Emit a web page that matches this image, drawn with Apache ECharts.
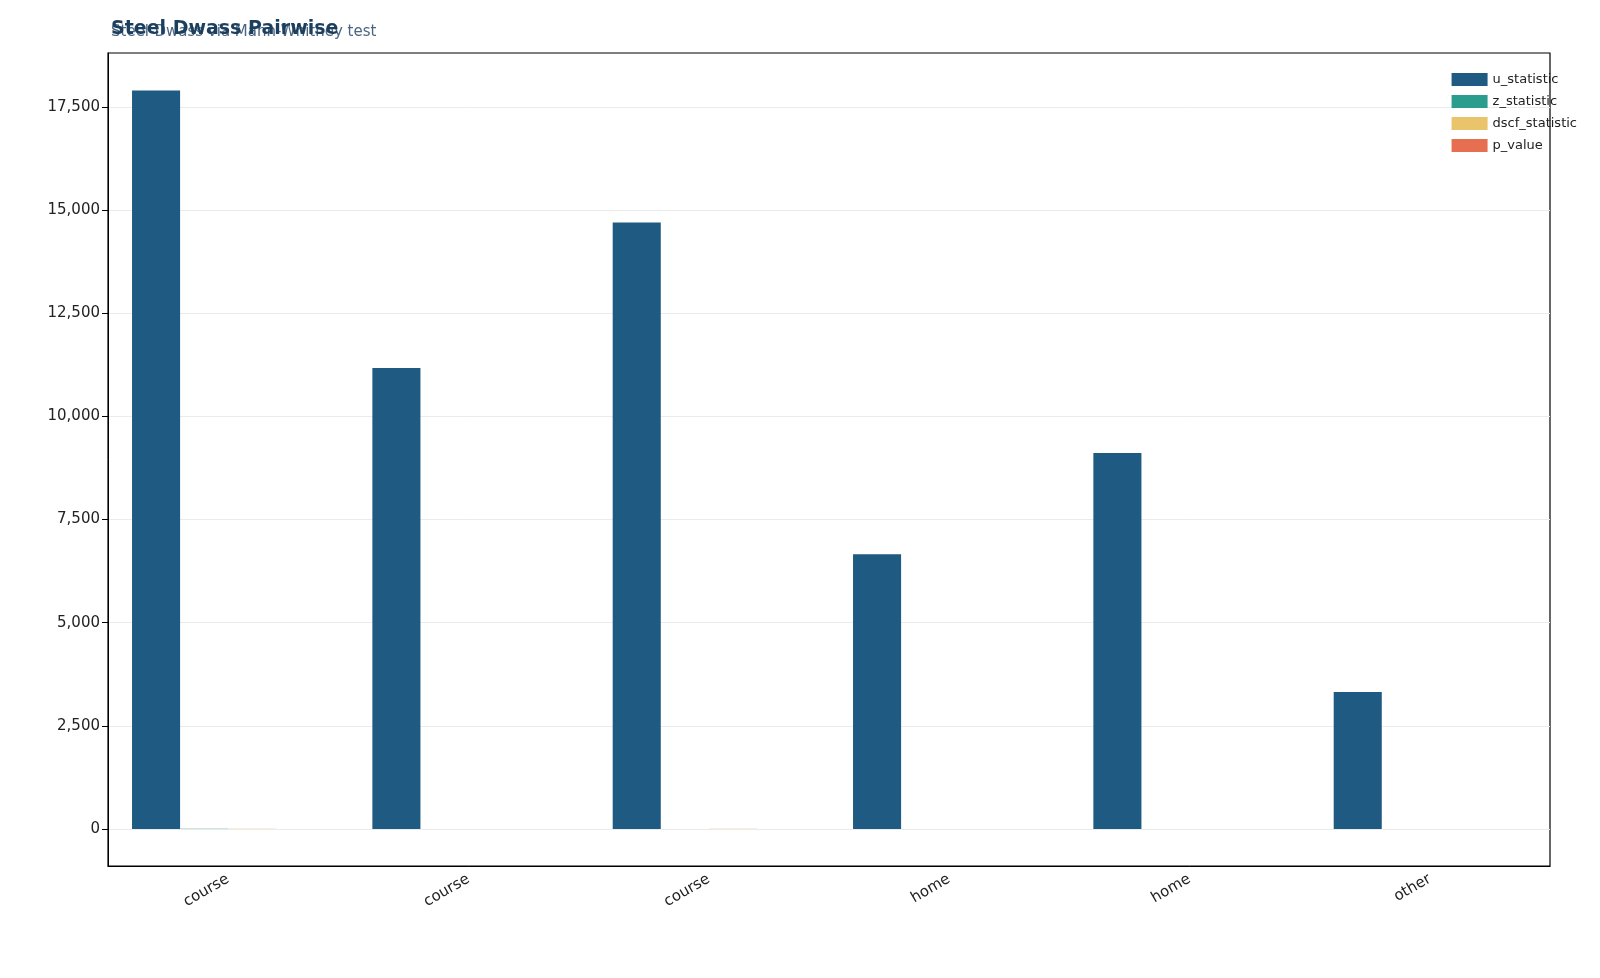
<!DOCTYPE html><html><head><meta charset="utf-8"><script src="https://cdn.jsdelivr.net/npm/echarts@6/dist/echarts.min.js"></script></head><body style="margin:0;background:#fff"><div id="c" style="width:1600px;height:978px"></div><script>
const categories=['course','course','course','home','home','other'];
const uStat=[17900,11170,14700,6660,9110,3320];
const zStat=[3.1,1.2,2.5,-1.1,0.9,-2.0];
const dscfStat=[4.4,1.7,3.5,-1.6,1.3,-2.8];
const pValue=[0.01,0.6,0.05,0.7,0.8,0.1];
const yTicks=[0,2500,5000,7500,10000,12500,15000,17500];
const names=['u_statistic','z_statistic','dscf_statistic','p_value'];
const colors=['#1f5a82','#2a9d8f','#e9c46a','#e76f51'];
const data=[uStat,zStat,dscfStat,pValue];
const ch=echarts.init(document.getElementById('c'));
ch.setOption({
 animation:false,
 title:[{text:'Steel-Dwass via Mann-Whitney test',left:106,top:20,textStyle:{fontFamily:'DejaVu Sans',fontSize:15,fontWeight:'normal',color:'#4a6680'}},
  {text:'Steel Dwass Pairwise',left:106,top:15,textStyle:{fontFamily:'DejaVu Sans',fontSize:19,fontWeight:'bold',color:'#1d3f5e'}}],
 legend:{right:18,top:68,orient:'vertical',itemWidth:36,itemHeight:13,itemGap:9,icon:'rect',
  textStyle:{fontFamily:'DejaVu Sans',fontSize:13,color:'#222'},data:names},
 grid:{left:108,right:50,top:53,bottom:112,show:true,borderColor:'#000',borderWidth:1.2},
 xAxis:{type:'category',data:categories,axisLine:{onZero:false,lineStyle:{color:'#000'}},axisTick:{alignWithLabel:true,length:7,lineStyle:{color:'#000'}},
  axisLabel:{rotate:30,fontFamily:'DejaVu Sans',fontSize:15,color:'#222',margin:12}},
 yAxis:{type:'value',min:-897,max:18807,
  axisLabel:{fontFamily:'DejaVu Sans',fontSize:15,color:'#222',customValues:yTicks},
  axisLine:{show:true,lineStyle:{color:'#000'}},axisTick:{show:true,length:6,customValues:yTicks,lineStyle:{color:'#000'}},
  splitLine:{lineStyle:{color:'#ebebeb'}}},
 series:names.map((n,i)=>({name:n,type:'bar',data:data[i],barGap:'0%',barCategoryGap:'20%',itemStyle:{color:colors[i]}}))
});
</script></body></html>
